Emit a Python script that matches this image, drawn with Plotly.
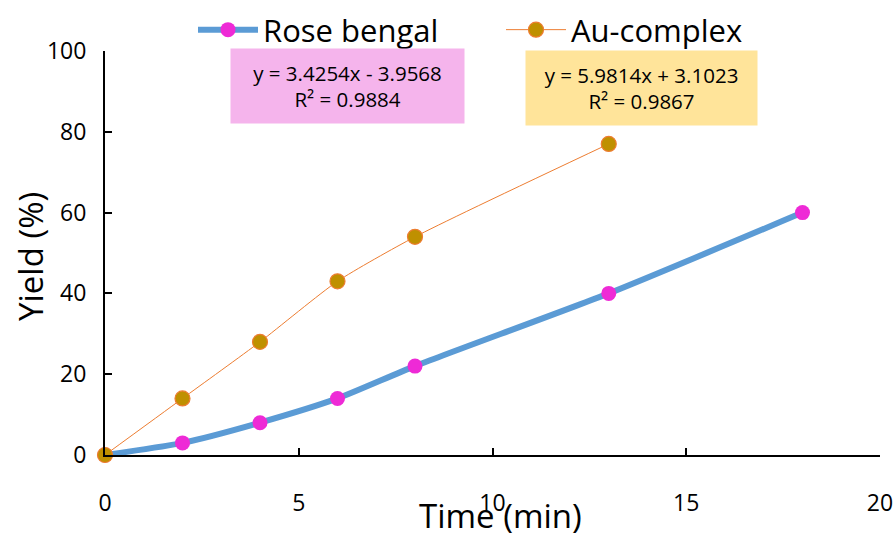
import plotly.graph_objects as go

time_rb = [0, 2, 4, 6, 8, 13, 18]
yield_rb = [0, 3, 8, 14, 22, 40, 60]
time_au = [0, 2, 4, 6, 8, 13]
yield_au = [0, 14, 28, 43, 54, 77]
x_ticks = [0, 5, 10, 15, 20]
y_ticks = [0, 20, 40, 60, 80, 100]

FONT = "Open Sans"
W, H = 896, 533
L, R, T, B = 105, 16, 51, 78
PW, PH = W - L - R, H - T - B


def px(xp):  # window x -> paper fraction
    return (xp - L) / PW


def py(yp):  # window y -> paper fraction
    return (H - B - yp) / PH


fig = go.Figure()
fig.add_trace(go.Scatter(
    x=time_rb, y=yield_rb, name="Rose bengal", mode="lines+markers",
    line=dict(color="#5B9BD5", width=6, shape="spline", smoothing=0.6),
    marker=dict(color="#EE2AD6", size=15, line=dict(width=0)),
    cliponaxis=False,
))
fig.add_trace(go.Scatter(
    x=time_au, y=yield_au, name="Au-complex", mode="lines+markers",
    line=dict(color="#ED7D31", width=1, shape="spline", smoothing=0.6),
    marker=dict(color="#BF9000", size=15, line=dict(width=1.2, color="#ED7D31")),
    cliponaxis=False,
))

fig.update_layout(
    width=W, height=H,
    margin=dict(l=L, r=R, t=T, b=B, autoexpand=False),
    paper_bgcolor="white", plot_bgcolor="white",
    font=dict(family=FONT, color="black"),
    showlegend=True,
    legend=dict(orientation="h", x=px(193), y=py(3), xanchor="left", yanchor="top",
                font=dict(size=31, family=FONT), entrywidth=233,
                bgcolor="rgba(0,0,0,0)", itemwidth=60),
)
fig.update_xaxes(range=[0, 20], tickvals=x_ticks, showgrid=False, zeroline=False,
                 showline=True, linecolor="black", linewidth=2,
                 ticks="inside", ticklen=7, tickwidth=2, tickcolor="black",
                 tickfont=dict(size=23, family=FONT), ticklabelstandoff=26)
fig.update_yaxes(range=[0, 100], tickvals=y_ticks, showgrid=False, zeroline=False,
                 showline=True, linecolor="black", linewidth=2,
                 ticks="inside", ticklen=7, tickwidth=2, tickcolor="black",
                 tickfont=dict(size=23, family=FONT), ticklabelstandoff=12)

fig.add_annotation(text="Yield (%)", xref="paper", yref="paper", x=px(30), y=py(257),
                   textangle=-90, showarrow=False, font=dict(size=33, family=FONT),
                   xanchor="center", yanchor="middle")
fig.add_annotation(text="Time (min)", xref="paper", yref="paper", x=px(500), y=py(515),
                   showarrow=False, font=dict(size=33, family=FONT),
                   xanchor="center", yanchor="middle")

fig.add_annotation(text="y = 3.4254x - 3.9568<br>R² = 0.9884",
                   xref="paper", yref="paper", x=px(347), y=py(86),
                   showarrow=False, bgcolor="#F5B4EC", width=231, height=72,
                   font=dict(size=20.5, family=FONT), xanchor="center", yanchor="middle")
fig.add_annotation(text="y = 5.9814x + 3.1023<br>R² = 0.9867",
                   xref="paper", yref="paper", x=px(641), y=py(88),
                   showarrow=False, bgcolor="#FFE49A", width=229, height=72,
                   font=dict(size=20.5, family=FONT), xanchor="center", yanchor="middle")

fig.write_html("out.html", config={"displayModeBar": False},
               post_script="document.body.style.margin='0';document.body.style.overflow='hidden';")
